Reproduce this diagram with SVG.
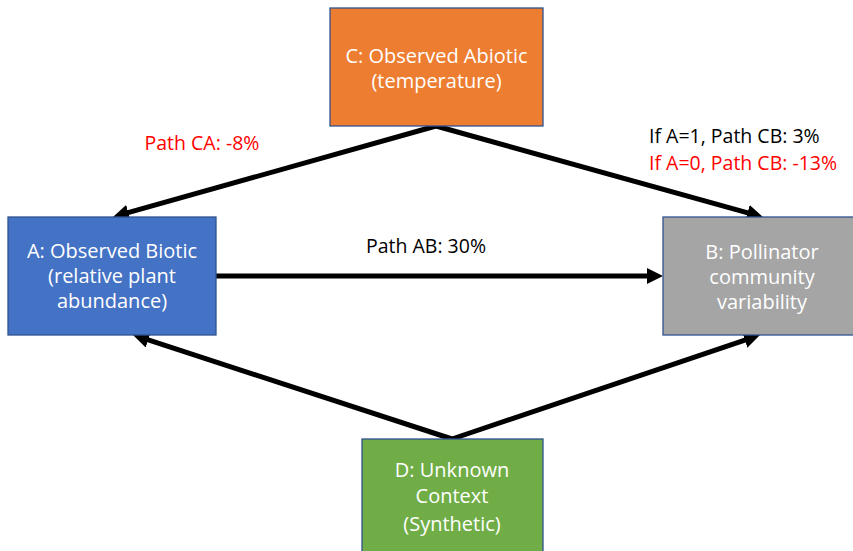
<svg xmlns="http://www.w3.org/2000/svg" width="853" height="551" viewBox="0 0 853 551">
<style>
.box{stroke:#2F528F;stroke-width:1.3}
.nt{font-family:"Open Sans","Liberation Sans",sans-serif;font-size:20px;fill:#fff;text-anchor:middle}
.lbl{font-family:"Open Sans","Liberation Sans",sans-serif;font-size:19.5px}
.red{fill:#FF0000}
.blk{fill:#000}
.conn{stroke:#000;stroke-width:5;fill:none;marker-end:url(#ah)}
</style>
<defs>
<marker id="ah" markerUnits="userSpaceOnUse" markerWidth="18" markerHeight="16" refX="4" refY="8" orient="auto">
<path d="M0,0 L16,8 L0,16 z" fill="#000"/>
</marker>
</defs>
<rect width="853" height="551" fill="#fff"/>
<g id="connectors">
<line class="conn" x1="436" y1="126" x2="124.5" y2="213.7"/>
<line class="conn" x1="436" y1="126" x2="751.4" y2="213.8"/>
<line class="conn" x1="216" y1="276" x2="651" y2="276"/>
<line class="conn" x1="452" y1="439" x2="144.4" y2="338.7"/>
<line class="conn" x1="452" y1="439" x2="748.6" y2="338.8"/>
</g>
<g id="nodeC">
<rect class="box" x="330" y="8" width="213" height="118" fill="#ED7D31"/>
<text class="nt" x="436.5" y="63">C: Observed Abiotic</text>
<text class="nt" x="436.5" y="88">(temperature)</text>
</g>
<g id="nodeA">
<rect class="box" x="8" y="217" width="208" height="118" fill="#4472C4"/>
<text class="nt" x="112" y="258">A: Observed Biotic</text>
<text class="nt" x="112" y="283">(relative plant</text>
<text class="nt" x="112" y="308">abundance)</text>
</g>
<g id="nodeB">
<rect class="box" x="663" y="217" width="198" height="118" fill="#A5A5A5"/>
<text class="nt" x="762" y="259">B: Pollinator</text>
<text class="nt" x="762" y="284">community</text>
<text class="nt" x="762" y="309">variability</text>
</g>
<g id="nodeD">
<rect class="box" x="362" y="439" width="181" height="118" fill="#70AD47"/>
<text class="nt" x="452" y="477">D: Unknown</text>
<text class="nt" x="452" y="503">Context</text>
<text class="nt" x="452" y="531">(Synthetic)</text>
</g>
<g id="labels">
<text class="lbl red" x="202" y="150" text-anchor="middle">Path CA: -8%</text>
<text class="lbl blk" x="426" y="253" text-anchor="middle">Path AB: 30%</text>
<text class="lbl blk" x="649" y="143">If A=1, Path CB: 3%</text>
<text class="lbl red" x="649" y="170">If A=0, Path CB: -13%</text>
</g>
</svg>
